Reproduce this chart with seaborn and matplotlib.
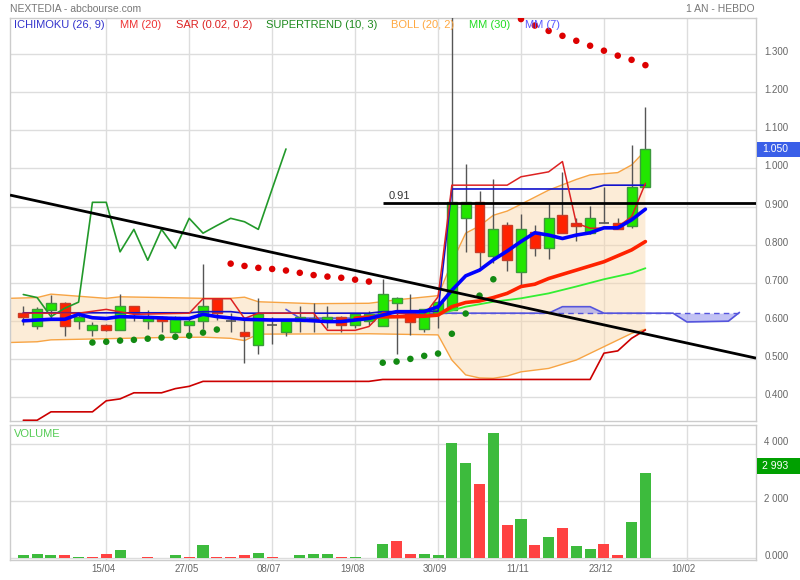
import numpy as np
import pandas as pd
import matplotlib
matplotlib.use("Agg")
import matplotlib.pyplot as plt
from matplotlib.patches import Rectangle
from matplotlib.transforms import ScaledTranslation
import seaborn as sns

# ---------------- data (weekly candles, index = week number) ----------------
opens  = [0.620, 0.587, 0.629, 0.648, 0.599, 0.577, 0.588, 0.577, 0.638, 0.599,
          0.609, 0.570, 0.588, 0.599, 0.657, 0.600, 0.571, 0.537, 0.588, 0.570,
          0.600, 0.605, 0.600, 0.609, 0.588, 0.600, 0.587, 0.648, 0.620, 0.578,
          0.620, 0.628, 0.869, 0.913, 0.770, 0.851, 0.729, 0.832, 0.790, 0.879,
          0.858, 0.831, 0.858, 0.858, 0.850, 0.950]
highs  = [0.639, 0.637, 0.668, 0.650, 0.620, 0.598, 0.592, 0.670, 0.640, 0.628,
          0.612, 0.612, 0.609, 0.749, 0.657, 0.620, 0.609, 0.659, 0.609, 0.605,
          0.639, 0.648, 0.639, 0.612, 0.620, 0.625, 0.709, 0.662, 0.670, 0.632,
          0.652, 1.400, 1.011, 0.940, 0.972, 0.860, 0.880, 0.851, 0.908, 0.990,
          0.870, 0.901, 0.950, 0.869, 1.061, 1.162]
lows   = [0.589, 0.578, 0.606, 0.561, 0.578, 0.561, 0.574, 0.575, 0.600, 0.579,
          0.571, 0.567, 0.571, 0.579, 0.602, 0.571, 0.490, 0.512, 0.540, 0.561,
          0.571, 0.571, 0.580, 0.571, 0.580, 0.590, 0.587, 0.512, 0.563, 0.571,
          0.580, 0.628, 0.781, 0.742, 0.751, 0.732, 0.690, 0.771, 0.761, 0.830,
          0.810, 0.829, 0.858, 0.840, 0.843, 0.950]
closes = [0.609, 0.630, 0.648, 0.587, 0.609, 0.588, 0.577, 0.638, 0.620, 0.609,
          0.599, 0.609, 0.599, 0.638, 0.620, 0.600, 0.559, 0.619, 0.588, 0.600,
          0.609, 0.605, 0.609, 0.588, 0.619, 0.619, 0.670, 0.659, 0.598, 0.630,
          0.649, 0.913, 0.913, 0.780, 0.841, 0.760, 0.840, 0.790, 0.869, 0.830,
          0.850, 0.869, 0.858, 0.840, 0.950, 1.050]
volumes = [130, 150, 105, 118, 60, 60, 175, 295, 25, 55,
           25, 105, 35, 470, 55, 55, 118, 200, 60, 12,
           118, 150, 150, 45, 55, 0, 495, 600, 175, 150,
           130, 4035, 3340, 2610, 4390, 1190, 1390, 480, 740, 1060,
           450, 320, 505, 120, 1270, 2993]
vol_dir = list("GGGRGRRGRR" "RGRGRRRGRG" "GGGRGGGRRG" "GGGRGRGRGR" "GGRRGG")

tick_pos = [6, 12, 18, 24, 30, 36, 42, 48]
tick_labels = ["15/04", "27/05", "08/07", "19/08", "30/09", "11/11", "23/12", "10/02"]
price_ticks = [0.4, 0.5, 0.6, 0.7, 0.8, 0.9, 1.0, 1.1, 1.2, 1.3]
vol_ticks = [0, 2000, 4000]
vol_tick_labels = ["0.000", "2 000", "4 000"]

# ---------------- indicators ----------------
bb_up_x = [-1, 1, 2, 6, 7, 10, 13, 15, 16, 17, 21, 25, 27, 30, 31, 32, 33, 34, 35, 36, 38, 40, 41, 43, 44, 45]
bb_up_y = [0.659, 0.661, 0.670, 0.659, 0.663, 0.661, 0.659, 0.659, 0.662, 0.650, 0.645, 0.646, 0.655,
           0.666, 0.753, 0.830, 0.849, 0.877, 0.888, 0.906, 0.943, 0.971, 0.983, 0.989, 1.009, 1.047]
bb_lo_x = [-1, 1, 2, 6, 10, 13, 15, 16, 17, 25, 30, 31, 32, 33, 34, 35, 36, 38, 40, 42, 44, 45]
bb_lo_y = [0.543, 0.545, 0.550, 0.553, 0.556, 0.557, 0.554, 0.548, 0.565, 0.566, 0.563,
           0.497, 0.458, 0.450, 0.449, 0.455, 0.466, 0.475, 0.497, 0.532, 0.567, 0.578]

mm7_x = [0, 1, 2, 3, 4, 5, 6, 7, 9, 11, 12, 13, 14, 16, 18, 20, 22, 23, 24, 25, 26, 27, 29,
         30, 31, 32, 33, 34, 35, 36, 37, 38, 39, 40, 41, 42, 43, 44, 45]
mm7_y = [0.600, 0.602, 0.604, 0.604, 0.617, 0.608, 0.606, 0.611, 0.609, 0.606, 0.606, 0.617,
         0.611, 0.604, 0.602, 0.602, 0.598, 0.598, 0.602, 0.606, 0.615, 0.624, 0.624,
         0.637, 0.680, 0.718, 0.733, 0.760, 0.783, 0.808, 0.831, 0.825, 0.816, 0.825,
         0.831, 0.844, 0.844, 0.865, 0.893]
mm20_x = [24, 25, 28, 29, 30, 31, 32, 33, 34, 35, 36, 37, 38, 40, 42, 44, 45]
mm20_y = [0.607, 0.610, 0.611, 0.612, 0.615, 0.637, 0.648, 0.652, 0.661, 0.672, 0.690,
          0.696, 0.711, 0.733, 0.755, 0.786, 0.808]
mm30_x = [24, 29, 30, 32, 34, 36, 38, 40, 42, 44, 45]
mm30_y = [0.606, 0.612, 0.617, 0.637, 0.650, 0.659, 0.672, 0.690, 0.709, 0.725, 0.738]

tenkan_x = [0, 4, 6, 8, 12, 13, 15, 16, 17, 21, 22, 24, 25, 26, 29, 30, 31, 35, 36, 38,
            39, 40, 41, 42, 43, 44, 45]
tenkan_y = [0.620, 0.620, 0.630, 0.617, 0.620, 0.658, 0.658, 0.606, 0.620, 0.620, 0.575,
            0.575, 0.585, 0.622, 0.615, 0.663, 0.956, 0.956, 0.978, 0.991, 1.018, 0.856,
            0.843, 0.843, 0.847, 0.873, 0.961]
kijun_x = [0, 12, 13, 15, 16, 25, 26, 30, 31, 41, 42, 45]
kijun_y = [0.621, 0.621, 0.624, 0.624, 0.620, 0.620, 0.624, 0.625, 0.946, 0.946, 0.956, 0.956]

chikou_x = list(range(20))
chikou_y = [0.669, 0.661, 0.611, 0.633, 0.649, 0.911, 0.911, 0.781, 0.840, 0.759,
            0.840, 0.790, 0.869, 0.830, 0.850, 0.869, 0.860, 0.840, 0.946, 1.051]

lower_x = [0, 1, 2, 5, 6, 7, 8, 10, 11, 12, 13, 25, 26, 41, 42, 43, 44, 45]
lower_y = [0.339, 0.339, 0.361, 0.361, 0.390, 0.395, 0.411, 0.411, 0.422, 0.428, 0.441,
           0.441, 0.446, 0.446, 0.515, 0.521, 0.554, 0.576]

span_a_x = [19, 20, 24, 25, 26, 38, 39, 41, 42, 47, 48, 51, 51.8]
span_a_y = [0.630, 0.607, 0.607, 0.613, 0.620, 0.620, 0.637, 0.637, 0.620, 0.620, 0.597, 0.599, 0.622]
span_b_x = [26, 51.8]
span_b_y = [0.620, 0.620]

sar_x = [5, 6, 7, 8, 9, 10, 11, 12, 13, 14,
         15, 16, 17, 18, 19, 20, 21, 22, 23, 24, 25,
         26, 27, 28, 29, 30, 31, 32, 33, 34,
         36, 37, 38, 39, 40, 41, 42, 43, 44, 45]
sar_y = [0.543, 0.545, 0.548, 0.550, 0.553, 0.556, 0.558, 0.561, 0.569, 0.577,
         0.750, 0.744, 0.739, 0.736, 0.732, 0.726, 0.720, 0.716, 0.713, 0.708, 0.703,
         0.490, 0.493, 0.500, 0.508, 0.514, 0.566, 0.619, 0.666, 0.709,
         1.392, 1.375, 1.361, 1.348, 1.335, 1.322, 1.309, 1.296, 1.285, 1.271]
sar_side = ["up"] * 10 + ["down"] * 11 + ["up"] * 9 + ["down"] * 10

trend_x = [-0.96, 53.0]
trend_y = [0.930, 0.502]
level_x = [26.0, 53.0]
level_y = [0.91, 0.91]

last_close_label = "1.050"
last_volume_label = "2 993"

# ---------------- figure ----------------
sns.set_style("white")
plt.rcParams["font.family"] = ["Liberation Sans", "DejaVu Sans"]

W, H = 800, 580
fig = plt.figure(figsize=(8, 5.8), dpi=100)
fig.patch.set_facecolor("white")

def fx(x):
    return x / W

def fy(y):
    return 1 - y / H

ax = fig.add_axes([fx(10), fy(420.5), fx(746), 402.5 / H])
axv = fig.add_axes([fx(10), fy(560), fx(746), 135 / H])

GRID = "#dddddd"
for a in (ax, axv):
    a.set_facecolor("white")
    a.set_axisbelow(True)
    a.grid(True, color=GRID, lw=1)
    for s in a.spines.values():
        s.set_color("#cccccc")
        s.set_linewidth(1)
    a.yaxis.tick_right()
    a.tick_params(axis="both", length=0, labelsize=7, labelcolor="#666666")
    a.set_xlim(-0.962, 53.0)
    a.set_xticks(tick_pos)

ax.set_ylim(0.3383, 1.3948)
ax.set_yticks(price_ticks)
ax.set_yticklabels([f"{v:.3f}" for v in price_ticks])
ax.tick_params(axis="y", pad=6)
ax.set_xticklabels([])

# Bollinger band fill
poly_x = bb_up_x + bb_lo_x[::-1]
poly_y = bb_up_y + bb_lo_y[::-1]
ax.fill(poly_x, poly_y, color="#f9d6a8", alpha=0.45, lw=0, zorder=1)
sns.lineplot(x=bb_up_x, y=bb_up_y, ax=ax, color="#f7a444", lw=1, estimator=None, sort=False, zorder=2)
sns.lineplot(x=bb_lo_x, y=bb_lo_y, ax=ax, color="#f7a444", lw=1, estimator=None, sort=False, zorder=2)

# Ichimoku cloud
sa_x = np.array(span_a_x, dtype=float)
sa_y = np.array(span_a_y)
ax.fill_between(sa_x, sa_y, span_b_y[0], where=sa_x >= 26, interpolate=True,
                color="#9a9aee", alpha=0.6, lw=0, zorder=2)
ax.plot(span_b_x, span_b_y, color="#5555dd", lw=1, ls=(0, (4, 3)), zorder=2)
sns.lineplot(x=span_a_x, y=span_a_y, ax=ax, color="#5555dd", lw=1.2, estimator=None, sort=False, zorder=3)

# lower dark red line
sns.lineplot(x=lower_x, y=lower_y, ax=ax, color="#cc0000", lw=1.2, estimator=None, sort=False, zorder=3)

# candles
BODY_W = 0.72
for i, (o, h, l, c) in enumerate(zip(opens, highs, lows, closes)):
    ax.vlines(i, l, h, color="#555555", lw=1, zorder=5)
    if abs(c - o) < 1e-9:
        ax.hlines(o, i - BODY_W / 2, i + BODY_W / 2, color="#555555", lw=1.2, zorder=6)
        continue
    if c > o:
        fc, ec = "#22e600", "#3c9a3c"
    else:
        fc, ec = "#ff2200", "#c83c28"
    ax.add_patch(Rectangle((i - BODY_W / 2, min(o, c)), BODY_W, abs(c - o),
                           facecolor=fc, edgecolor=ec, lw=1, zorder=6))

# indicator lines
sns.lineplot(x=chikou_x, y=chikou_y, ax=ax, color="#22992a", lw=1.2, estimator=None, sort=False, zorder=7)
sns.lineplot(x=kijun_x, y=kijun_y, ax=ax, color="#1111cc", lw=1.2, estimator=None, sort=False, zorder=7)
sns.lineplot(x=tenkan_x, y=tenkan_y, ax=ax, color="#dd2222", lw=1.1, estimator=None, sort=False, zorder=7)
sns.lineplot(x=mm30_x, y=mm30_y, ax=ax, color="#33ee33", lw=1.3, estimator=None, sort=False, zorder=8)
sns.lineplot(x=mm20_x, y=mm20_y, ax=ax, color="#ff2200", lw=2.6, estimator=None, sort=False, zorder=8)
sns.lineplot(x=mm7_x, y=mm7_y, ax=ax, color="#0000ff", lw=2.6, estimator=None, sort=False, zorder=9)

# Parabolic SAR dots
sar_df = pd.DataFrame({"x": sar_x, "y": sar_y, "side": sar_side})
sns.scatterplot(data=sar_df, x="x", y="y", hue="side",
                palette={"up": "#138a13", "down": "#dd0000"},
                s=22, linewidth=0, ax=ax, zorder=10, legend=False)

# trend line and horizontal level
ax.plot(trend_x, trend_y, color="black", lw=2, zorder=11, solid_capstyle="butt")
ax.plot(level_x, level_y, color="black", lw=2, zorder=11, solid_capstyle="butt")
ax.text(26.39, 0.914, "0.91", fontsize=8, color="#333333", ha="left", va="bottom", zorder=12)
ax.set_xlabel("")
ax.set_ylabel("")

# ---------------- volume panel ----------------
vol_colors = ["#3dbb3d" if d == "G" else "#ff4242" for d in vol_dir]
axv.bar(range(len(volumes)), volumes, width=0.8, color=vol_colors, lw=0, zorder=3)
axv.set_ylim(-53, 4684)
axv.set_yticks(vol_ticks)
axv.set_yticklabels(vol_tick_labels)
axv.tick_params(axis="y", pad=6)
axv.tick_params(axis="x", pad=3)
axv.set_xticklabels(tick_labels)
axv.set_xlabel("")
axv.set_ylabel("")
axv.text(fx(14 - 10) / (746 / W), 1 - 9 / 135, "VOLUME", transform=axv.transAxes,
         fontsize=8, color="#55cc55", ha="left", va="center")

# nudge tick labels the way the reference places them
up_shift = ScaledTranslation(0, 3 / 100, fig.dpi_scale_trans)
left_shift = ScaledTranslation(-3 / 100, 0, fig.dpi_scale_trans)
for a in (ax, axv):
    for lab in a.get_yticklabels():
        lab.set_transform(lab.get_transform() + up_shift)
for lab in axv.get_xticklabels():
    lab.set_transform(lab.get_transform() + left_shift)

# ---------------- header texts ----------------
fig.text(fx(10), fy(9), "NEXTEDIA - abcbourse.com", fontsize=7.5, color="#777777",
         ha="left", va="center")
fig.text(fx(755), fy(9), "1 AN - HEBDO", fontsize=7.5, color="#777777", ha="right", va="center")

legend_items = [
    (14, "ICHIMOKU (26, 9)", "#3333cc"),
    (120, "MM (20)", "#ee3333"),
    (176, "SAR (0.02, 0.2)", "#dd2222"),
    (266, "SUPERTREND (10, 3)", "#1e8a1e"),
    (391, "BOLL (20, 2)", "#ffa840"),
    (469, "MM (30)", "#22dd22"),
    (525, "MM (7)", "#5555ff"),
]
for x0, txt, col in legend_items:
    fig.text(fx(x0), fy(25), txt, fontsize=8, color=col, ha="left", va="center")

# last value boxes on the right axis
fig.patches.append(Rectangle((fx(757), fy(157)), fx(43), 15 / H, transform=fig.transFigure,
                             facecolor="#3a5fe8", edgecolor="none", zorder=20))
fig.text(fx(762), fy(149.5), last_close_label, fontsize=7.5, color="white", ha="left",
         va="center", zorder=21)
fig.patches.append(Rectangle((fx(757), fy(474)), fx(43), 16 / H, transform=fig.transFigure,
                             facecolor="#00a000", edgecolor="none", zorder=20))
fig.text(fx(762), fy(466), last_volume_label, fontsize=7.5, color="white", ha="left",
         va="center", zorder=21)

fig.savefig("out.png", dpi=100, facecolor="white")
